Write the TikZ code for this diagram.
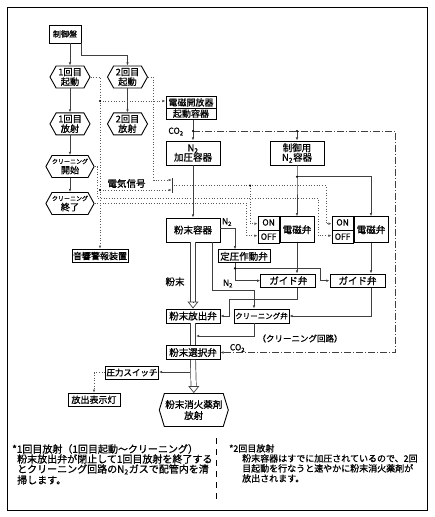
\documentclass[tikz,border=0pt]{standalone}
\usepackage{fontspec}
\setmainfont{Noto Sans CJK JP}[FakeBold=0.9]
\usetikzlibrary{positioning,arrows.meta,shapes.symbols,shapes.multipart}
\tikzset{
  box/.style={draw,line width=0.9pt,fill=white,inner sep=1pt,minimum width=54pt,minimum height=14pt,font=\fontsize{9.5}{10.5}\selectfont},
  hexa/.style={draw,line width=0.9pt,fill=white,shape=signal,signal to=west and east,signal pointer angle=122,minimum width=40pt,minimum height=22pt,inner sep=0pt,align=center,font=\fontsize{9.2}{9.8}\selectfont},
  onoff/.style={draw,line width=0.9pt,fill=white,rectangle split,rectangle split parts=2,minimum width=21pt,inner xsep=1pt,inner ysep=3pt,text height=6pt,text depth=1pt,font=\fontsize{8.5}{9}\selectfont},
  flow/.style={draw=black!75,line width=0.7pt},
  elec/.style={draw=black!65,line width=0.7pt,dotted},
  gas/.style={draw=black!75,line width=0.7pt,dash pattern=on 7pt off 2pt on 1pt off 2pt},
  powder/.style={draw=black!75,line width=0.7pt,double,double distance=4.5pt},
  powtip/.style={draw=black!75,line width=0.7pt,-{Triangle[open,length=7pt,width=11pt]}},
  lbl/.style={inner sep=0pt,font=\fontsize{8.5}{9}\selectfont},
  note/.style={inner sep=0pt,align=left,anchor=north west,font=\fontsize{10}{10}\selectfont},
}
\begin{document}
\begin{tikzpicture}[x=1pt,y=-1pt,>={Latex[length=3.2pt,width=2.6pt]}]
\useasboundingbox (0,0) rectangle (434,517);
\draw[line width=1pt] (7,7) rectangle (427,510);

% left column: starting and discharge steps
\node[box,minimum width=32pt,minimum height=18pt,font=\fontsize{8}{9}\selectfont] (panel) at (65,34) {制御盤};
\node[hexa] (start1) at (70,77) {1回目\\起動};
\node[hexa] (start2) at (127.5,77) {2回目\\起動};
\node[hexa] (shot1) [below=24pt of start1] {1回目\\放射};
\node[hexa] (shot2) [below=24pt of start2] {2回目\\放射};
\node[hexa] (cstart) at (70,166.5) {{\fontsize{6}{6.5}\selectfont クリーニング}\\開始};
\node[hexa] (cend) at (70,203.5) {{\fontsize{6}{6.5}\selectfont クリーニング}\\終了};
\node[box,minimum width=56pt,minimum height=13.5pt,font=\fontsize{9}{10}\selectfont] (alarm) at (100,256) {音響警報装置};

% gas side
\node[box,rectangle split,rectangle split parts=2,minimum width=50pt,font=\fontsize{9}{10}\selectfont] (opener) at (191,108) {電磁開放器\nodepart{second}起動容器};
\node[box,minimum height=24pt,align=center] (press) at (193,153) {N\textsubscript{2}\\[-1pt]加圧容器};
\node[box,minimum height=24pt,align=center] (ctrl) at (297,153) {制御用\\[-1pt]N\textsubscript{2}容器};
\node[fill=black!80,minimum width=1.3pt,minimum height=15pt,inner sep=0pt] (relay) at (172.7,185.5) {};

% valves
\node[box,minimum height=24pt] (hopper) at (193,230) {粉末容器};
\node[box,minimum width=34pt,minimum height=26pt] (sol1) at (297,229.7) {電磁弁};
\node[onoff] (sw1) [left=0pt of sol1] {ON\nodepart{second}OFF};
\node[box,minimum width=34pt,minimum height=26pt] (sol2) at (371,229.7) {電磁弁};
\node[onoff] (sw2) [left=0pt of sol2] {ON\nodepart{second}OFF};
\node[box,minimum width=52pt,minimum height=13pt] (reg) at (244,256.3) {定圧作動弁};
\node[box,minimum width=55pt,minimum height=13.5pt] (guide1) at (288.3,280.7) {ガイド弁};
\node[box,minimum width=55pt,minimum height=13.5pt] (guide2) at (357.5,280.7) {ガイド弁};
\node[box] (release) at (193,316) {粉末放出弁};
\node[box,minimum width=55pt,font=\fontsize{7.5}{9}\selectfont] (cv) at (261.5,316) {クリーニング弁};
\node[box] (select) at (193,352.5) {粉末選択弁};
\node[box,minimum width=53pt,minimum height=13pt,font=\fontsize{8.5}{9}\selectfont] (psw) at (132,372.5) {圧力スイッチ};
\node[box,minimum width=52pt,minimum height=13pt,font=\fontsize{9}{10}\selectfont] (lamp) at (94,399.7) {放出表示灯};
\node[hexa,minimum width=69pt,minimum height=33pt,signal pointer angle=146,font=\fontsize{9.5}{11}\selectfont] (nozzle) at (193.8,410) {粉末消火薬剤\\放射};

% labels
\node[lbl,font=\fontsize{9.5}{10}\selectfont] (siglbl) at (126.5,183.5) {電気信号};
\node[lbl] (co2a) at (176,131.5) {CO\textsubscript{2}};
\node[lbl] (co2b) at (237.5,348) {CO\textsubscript{2}};
\node[lbl] (n2a) at (227,222) {N\textsubscript{2}};
\node[lbl] (n2b) at (228,283.5) {N\textsubscript{2}};
\node[lbl,font=\fontsize{9.5}{10}\selectfont] (powlbl) at (175,281.7) {粉末};
\node[lbl,font=\fontsize{8.5}{9}\selectfont] (cclbl) at (300,338.5) {（クリーニング回路）};

% control panel and sequence
\draw[flow,->] (start1.north |- panel.south) -- (start1.north);
\draw[flow,->] ([xshift=-0.5pt]panel.south east) -- ++(0,12) -| (start2.north);
\draw[flow,->] (start1.south) -- (shot1.north);
\draw[flow,->] (start2.south) -- (shot2.north);
\draw[flow,->] (shot1.south) -- (cstart.north);
\draw[flow,->] (cstart.south) -- (cend.north);

% electric signals
\coordinate (tapA) at (100,101);
\coordinate (tapB) at (100,190);
\coordinate (jA) at (250,185.5);
\draw[elec,->] (start1.east) -| (alarm.north);
\draw[elec,->] (tapA) -- (tapA -| opener.west);
\draw[elec,->] (tapB) -- ([yshift=-4.5pt]relay.west);
\draw[elec,->] (start2.east) -- ++(5.5,0) |- ([yshift=5.5pt]relay.west);
\draw[elec,->] (relay.east) -- ++(152.3,0) |- ([yshift=6pt]sw2.west);
\draw[elec,->] (jA) |- ([yshift=6pt]sw1.west);
\draw[elec,->] (cstart.east) -- ++(3,0) |- (318,198) |- ([yshift=-6pt]sw2.west);
\draw[elec,->] (cend.east) -- (246.7,203.5) |- ([yshift=-6pt]sw1.west);
\fill (tapA) circle (1.2pt);
\fill (tapB) circle (1.2pt);
\fill (jA) circle (1.2pt);

% gas lines
\coordinate (co2) at (193,131);
\coordinate (cj) at (297,176.7);
\coordinate (rj) at (235,268.3);
\draw[flow,->] (press.north |- opener.south) -- (press.north);
\draw[gas,->] (co2) -- (395,131) |- (select.east);
\draw[flow,->] (co2 -| ctrl.north) -- (ctrl.north);
\draw[flow,->] (press.south) -- (hopper.north);
\draw[flow,->] (ctrl.south) -- (cj) -- (cj |- sol1.north);
\draw[flow,->] (cj) -| (sol2.north);
\draw[flow,->] ([yshift=2pt]hopper.east) -| ([xshift=-9pt]reg.north);
\draw[flow,->] ([xshift=-9pt]reg.south) |- (guide1.west);
\draw[flow,->] (rj) -- ++(85,0) |- (guide2.west);
\draw[flow,->] (sol1.south) -- (sol1.south |- guide1.north);
\draw[flow,->] (sol2.south) -- (sol2.south |- guide2.north);
\draw[flow,->] (sol1.south |- guide1.south) -- ++(0,11) -- ++(-68,0) |- (release.east);
\draw[flow,->] (sol2.south |- guide2.south) |- (cv.east);
\draw[flow,->] ([xshift=-8pt]hopper.south east) -- ++(0,48) -| ([xshift=-7.5pt]cv.north);
\fill (co2) circle (1.2pt);
\fill (co2 -| ctrl.north) circle (1.2pt);
\fill (cj) circle (1.2pt);
\fill (rj) circle (1.2pt);

% powder
\coordinate (cin) at (196,336);
\coordinate (ptap) at (190.4,372);
\draw[powder,shorten >=7pt] (hopper.south) -- (release.north);
\draw[powtip] ([yshift=7pt]release.north) -- (release.north);
\draw[powder] (release.south) -- (select.north);
\draw[powder,shorten >=7pt] (select.south) -- (nozzle.north);
\draw[powtip] ([yshift=7pt]nozzle.north) -- (nozzle.north);
\draw[flow,->] ([xshift=-7pt]cv.south) |- (cin);
\draw[flow,->] (ptap) -- (ptap -| psw.east);
\draw[elec,->] (psw.west) -| (lamp.north);

% notes
\node[note] (note1) at (12,444) {*1回目放射（1回目起動〜クリーニング）\\
\hspace*{5pt}粉末放出弁が閉止して1回目放射を終了する\\
\hspace*{5pt}とクリーニング回路のN\textsubscript{2}ガスで配管内を清\\
\hspace*{5pt}掃します。};
\node[note,font=\fontsize{9}{10}\selectfont] (note2) at (229,444) {*2回目放射\\
\hspace*{13pt}粉末容器はすでに加圧されているので、2回\\
\hspace*{13pt}目起動を行なうと速やかに粉末消火薬剤が\\
\hspace*{13pt}放出されます。};
\draw[line width=0.8pt,dash pattern=on 6pt off 5pt] (216.7,438) -- (216.7,500);

\end{tikzpicture}
\end{document}
